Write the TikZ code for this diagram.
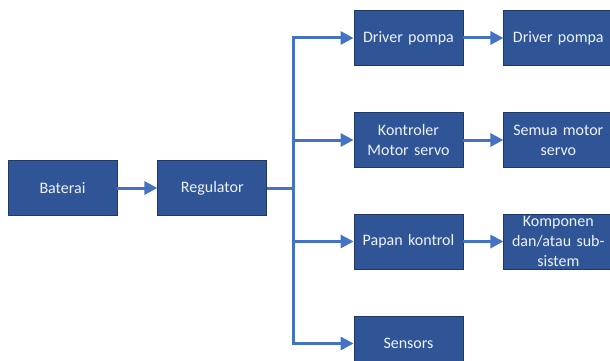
\documentclass[tikz,border=0pt]{standalone}
\usepackage{fontspec}
\setmainfont{Carlito}
\usetikzlibrary{arrows.meta,positioning}
\definecolor{BoxBlue}{HTML}{2F5597}
\definecolor{EdgeBlue}{HTML}{1F3864}
\definecolor{LineBlue}{HTML}{4472C4}
\definecolor{TextPale}{HTML}{EEF2FA}

\begin{document}
\begin{tikzpicture}[x=1pt,y=-1pt,node distance=40pt and 40pt,
blok/.style={draw=EdgeBlue,line width=0.8pt,fill=BoxBlue,text=TextPale,minimum width=109pt,minimum height=55pt,text width=100pt,align=center,inner sep=0pt,font=\fontsize{16}{20}\selectfont},
arr/.style={-{Triangle[length=13pt,width=13pt]},line width=3pt,LineBlue},
bus/.style={line width=3pt,LineBlue}]
\clip (0,0) rectangle (610,361);
\fill[white] (0,0) rectangle (610,361);
% power chain on the left
\node[blok] (bat) at (62.5,188) {Baterai};
\node[blok,right=of bat] (reg) {Regulator};
% loads fed from the regulator
\node[blok] (drv) at (408.5,38) {Driver pompa};
\node[blok] (ktr) at (408.5,140) {Kontroler\\Motor servo};
\node[blok] (pap) at (408.5,241.5) {Papan kontrol};
\node[blok] (sen) at (408.5,343.5) {Sensors};
\node[blok,right=of drv] (pmp) {Driver pompa};
\node[blok,right=of ktr] (srv) {Semua motor\\servo};
\node[blok,right=of pap] (kom) {Komponen\\dan/atau sub-\\sistem};
\coordinate (split) at (293,188);
\draw[arr] (bat)--(reg);
\draw[bus] (reg.east)--(split);
\foreach \v in {drv,ktr,pap,sen}{\draw[arr] (split)|-(\v.west);}
\foreach \u/\v in {drv/pmp,ktr/srv,pap/kom}{\draw[arr] (\u)--(\v);}
\end{tikzpicture}
\end{document}
